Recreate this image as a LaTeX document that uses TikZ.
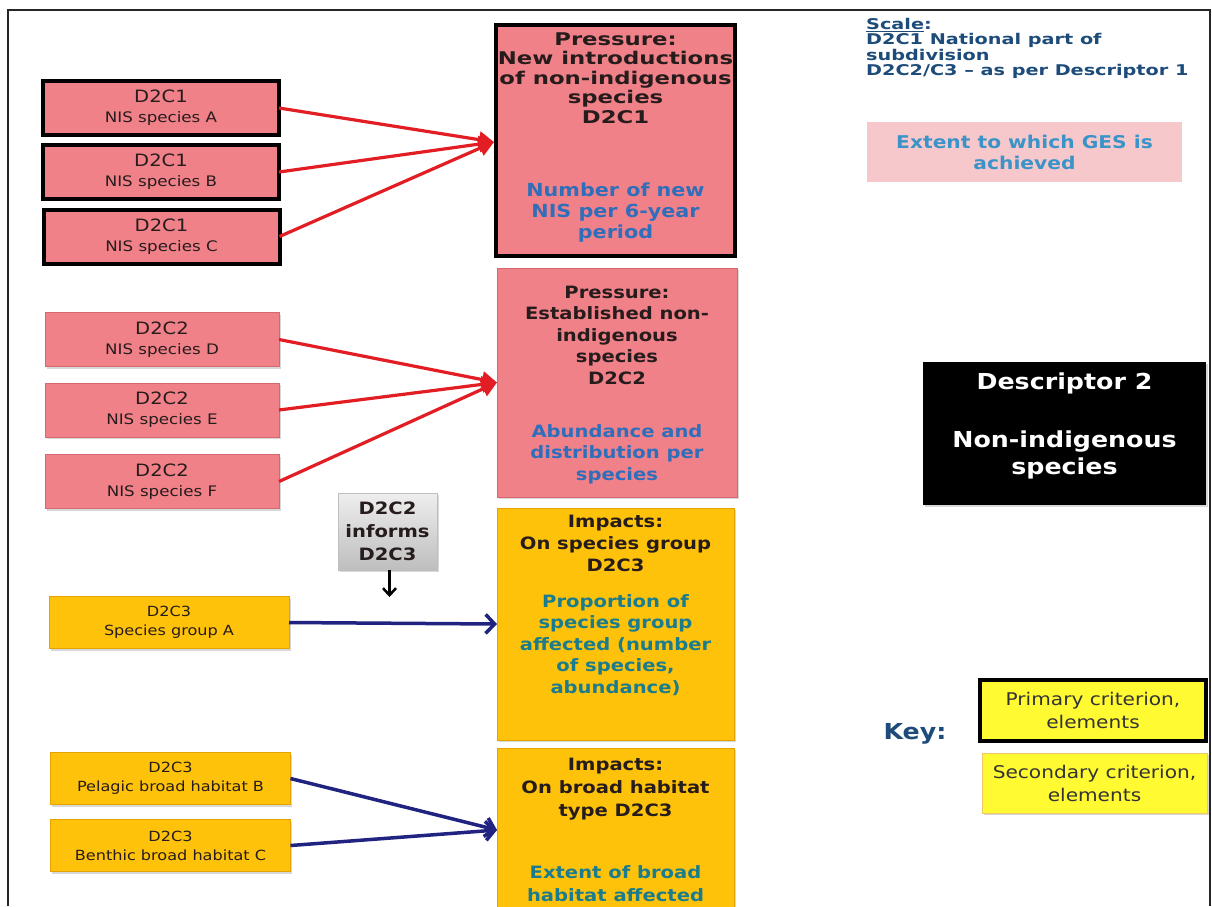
\documentclass[tikz,border=0pt]{standalone}
\usepackage{fontspec}
\setmainfont{DejaVu Sans}[FakeStretch=1.15]
\newfontfamily\widefont{DejaVu Sans}[FakeStretch=1.3]
\usetikzlibrary{arrows.meta,shadows}

\definecolor{pinkc}{RGB}{241,129,137}
\definecolor{pinkedge}{RGB}{214,104,112}
\definecolor{yimp}{RGB}{255,194,10}
\definecolor{yedge}{RGB}{230,160,0}
\definecolor{keyyel}{RGB}{255,250,50}
\definecolor{graytop}{RGB}{238,238,238}
\definecolor{graybot}{RGB}{190,190,190}
\definecolor{darktxt}{RGB}{38,28,28}
\definecolor{bluetxt}{RGB}{46,110,186}
\definecolor{tealtxt}{RGB}{26,124,140}
\definecolor{navy}{RGB}{30,76,122}
\definecolor{extentc}{RGB}{247,200,203}
\definecolor{extenttxt}{RGB}{58,148,200}
\definecolor{redarr}{RGB}{226,30,36}
\definecolor{bluearr}{RGB}{32,36,128}

\newcommand\setfs[2]{\fontsize{#1}{#2}\selectfont}

\begin{document}
\begin{tikzpicture}[x=1pt,y=-1pt,
  box/.style={rectangle,inner sep=0pt,outer sep=0pt,align=center,text=darktxt},
  primary/.style={box,draw=black,line width=4pt},
  soft/.style={box,line width=0.6pt,
    drop shadow={shadow xshift=1.5pt,shadow yshift=-2pt,opacity=0.3}},
  nisone/.style={primary,fill=pinkc,minimum width=236,minimum height=54,
    font=\setfs{14.5}{20}},
  nistwo/.style={soft,fill=pinkc,draw=pinkedge,minimum width=234,minimum height=54,
    font=\setfs{14.5}{20}},
  habbox/.style={soft,fill=yimp,draw=yedge,minimum width=240,minimum height=52,
    font=\setfs{14}{19}},
  boxtext/.style={align=center,inner sep=0pt,text=darktxt},
  redarrow/.style={draw=redarr,line width=3.2pt,-{Triangle[length=15pt,width=16pt]}},
  bluearrow/.style={draw=bluearr,line width=3.5pt,
    -{Straight Barb[length=9pt,width=19pt,line width=3.5pt]}},
  blackarrow/.style={draw=black,line width=2.5pt,
    -{Straight Barb[length=7pt,width=13pt,line width=2.5pt]}}
]
\useasboundingbox (0,0) rectangle (1212,906);
\fill[white] (0,0) rectangle (1212,906);

% outer frame, open at the bottom
\draw[line width=2pt,black!85] (8,906) -- (8,10) -- (1210,10) -- (1210,906);

% ---- D2C1: new introductions ----
\node[nisone] (a1) at (161,108) {{\setfs{17}{20}D2C1}\\NIS species A};
\node[nisone] (a2) at (161,172) {{\setfs{17}{20}D2C1}\\NIS species B};
\node[nisone] (a3) at (161.5,236.5) {{\setfs{17}{20}D2C1}\\NIS species C};

\node[primary,fill=pinkc,minimum width=239,minimum height=231] (p1) at (615.5,140.5) {};
\node[boxtext,font=\widefont\bfseries\setfs{17.5}{19.5}] (p1t) at (615.5,78)
  {Pressure:\\New introductions\\of non-indigenous\\species\\D2C1};
\node[boxtext,text=bluetxt,font=\bfseries\setfs{18}{21}] (p1m) at (615.5,213)
  {Number of new\\NIS per 6-year\\period};

\coordinate (p1in) at ([xshift=-2pt,yshift=-1.5pt]p1.west);
\draw[redarrow] (a1.east) -- (p1in);
\draw[redarrow] (a2.east) -- (p1in);
\draw[redarrow] (a3.east) -- (p1in);

% ---- D2C2: established species ----
\node[nistwo] (d1) at (162,339.5) {{\setfs{17}{20}D2C2}\\NIS species D};
\node[nistwo] (d2) at (162,410) {{\setfs{17}{20}D2C2}\\NIS species E};
\node[nistwo] (d3) at (162,481.5) {{\setfs{17}{20}D2C2}\\NIS species F};

\node[soft,fill=pinkc,draw=pinkedge,minimum width=240,minimum height=229] (p2) at (617,382.5) {};
\node[boxtext,font=\bfseries\setfs{17}{21.5}] (p2t) at (617,335)
  {Pressure:\\Established non-\\indigenous\\species\\D2C2};
\node[boxtext,text=bluetxt,font=\bfseries\setfs{17}{21.5}] (p2m) at (617,454)
  {Abundance and\\distribution per\\species};

\draw[redarrow] (d1.east) -- (p2.west);
\draw[redarrow] (d2.east) -- (p2.west);
\draw[redarrow] (d3.east) -- (p2.west);

% ---- D2C2 informs D2C3 ----
\node[soft,top color=graytop,bottom color=graybot,draw=black!25,
  minimum width=99,minimum height=77,
  font=\bfseries\setfs{17}{23}] (g) at (387.5,531.5) {D2C2\\informs\\D2C3};
\coordinate (gtip) at ([xshift=2pt,yshift=-27pt]g.south);
\draw[blackarrow] ([xshift=2pt]g.south) -- (gtip);

% ---- D2C3: impacts on species groups ----
\node[habbox] (s1) at (169,622.5) {D2C3\\Species group A};
\node[soft,fill=yimp,draw=yedge,minimum width=237,minimum height=232] (i1) at (615.5,624) {};
\node[boxtext,font=\bfseries\setfs{17}{22}] (i1t) at (615.5,543)
  {Impacts:\\On species group\\D2C3};
\node[boxtext,text=tealtxt,font=\bfseries\setfs{17}{21.5}] (i1m) at (615.5,645)
  {Proportion of\\species group\\affected (number\\of species,\\abundance)};
\draw[bluearrow] (s1.east) -- (i1.west);

% ---- D2C3: impacts on broad habitats ----
\node[habbox] (h1) at (170.5,778.5) {D2C3\\Pelagic broad habitat B};
\node[habbox] (h2) at (170.5,845.5) {D2C3\\Benthic broad habitat C};
\node[soft,fill=yimp,draw=yedge,minimum width=237,minimum height=170] (i2) at (615.5,833) {};
\node[boxtext,font=\bfseries\setfs{17}{23}] (i2t) at (615.5,789)
  {Impacts:\\On broad habitat\\type D2C3};
\node[boxtext,text=tealtxt,font=\bfseries\setfs{17}{23}] (i2m) at (615.5,884)
  {Extent of broad\\habitat affected};
\coordinate (i2in) at ([yshift=3pt]i2.west);
\draw[bluearrow] (h1.east) -- (i2in);
\draw[bluearrow] (h2.east) -- (i2in);

% ---- scale note ----
\node[anchor=north west,align=left,inner sep=0pt,text=navy,
  font=\widefont\bfseries\setfs{14.8}{15.3}] (scale) at (866,18)
  {\underline{Scale}:\\D2C1 National part of\\subdivision\\D2C2/C3 – as per Descriptor 1};
\node[box,fill=extentc,text=extenttxt,minimum width=315,minimum height=60,
  font=\bfseries\setfs{17.6}{21}] (ges) at (1024.5,152) {Extent to which GES is\\achieved};

% ---- descriptor title ----
\node[soft,fill=black,minimum width=283,minimum height=143] (desc) at (1064.5,433.5) {};
\node[boxtext,text=white,font=\bfseries\setfs{22}{27}] (desct) at (1064.5,426)
  {Descriptor 2\\[31pt]Non-indigenous\\species};

% ---- key ----
\node[inner sep=0pt,text=navy,font=\bfseries\setfs{22}{26}] (key) at (915,734) {Key:};
\node[primary,fill=keyyel,minimum width=226,minimum height=61,
  text=black!80,font=\setfs{17.5}{23}] (kp) at (1093,710.5) {Primary criterion,\\elements};
\node[soft,fill=keyyel,draw=yedge!60,minimum width=225,minimum height=60,
  text=black!80,font=\setfs{17.5}{23}] (ks) at (1094.5,783) {Secondary criterion,\\elements};
\end{tikzpicture}
\end{document}
